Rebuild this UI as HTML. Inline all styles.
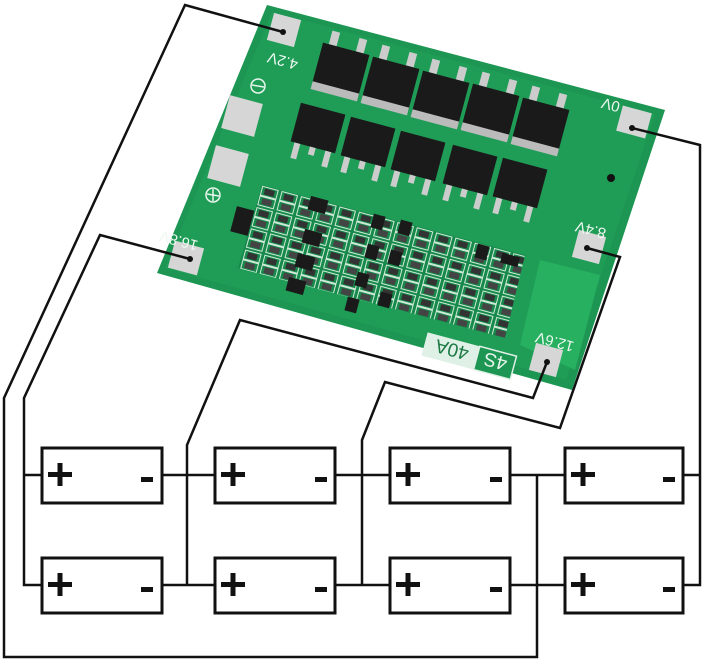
<!DOCTYPE html>
<html><head><meta charset="utf-8"><style>
html,body{margin:0;padding:0;background:#fff;}
svg{display:block;}
</style></head><body>
<svg width="708" height="667" viewBox="0 0 708 667" xmlns="http://www.w3.org/2000/svg" font-family="Liberation Sans, sans-serif">
<defs>
<pattern id="cmp" width="20" height="22" patternUnits="userSpaceOnUse" patternTransform="rotate(15)">
<rect x="0" y="0" width="20" height="22" fill="#178a4b"/>
<rect x="2" y="2" width="16" height="9" fill="none" stroke="#cfe9d8" stroke-width="1"/>
<rect x="5" y="3.5" width="10" height="6" fill="#333"/>
<rect x="2" y="12" width="16" height="9" fill="none" stroke="#cfe9d8" stroke-width="1"/>
<rect x="5" y="13.5" width="10" height="6" fill="#444"/>
</pattern>
</defs>
<rect width="708" height="667" fill="#fff"/>

<polygon points="267,5 665,110 572,390 157,273" fill="#1c9652"/>
<polygon points="272,12 655,114 566,380 165,268" fill="#1f9d57"/>
<polygon points="262,185 525,255 505,338 238,268" fill="url(#cmp)"/>
<polygon points="540,260 600,275 575,370 520,345" fill="#26b060"/>

<g fill="#1a1a1a">
<g transform="translate(340,72) rotate(15)"><rect x="-18" y="-38" width="8" height="14" fill="#ccc"/><rect x="10" y="-38" width="8" height="14" fill="#ccc"/><rect x="-24" y="-24" width="48" height="42"/><rect x="-24" y="16" width="48" height="8" fill="#bbb"/></g>
<g transform="translate(390,86) rotate(15)"><rect x="-18" y="-38" width="8" height="14" fill="#ccc"/><rect x="10" y="-38" width="8" height="14" fill="#ccc"/><rect x="-24" y="-24" width="48" height="42"/><rect x="-24" y="16" width="48" height="8" fill="#bbb"/></g>
<g transform="translate(440,100) rotate(15)"><rect x="-18" y="-38" width="8" height="14" fill="#ccc"/><rect x="10" y="-38" width="8" height="14" fill="#ccc"/><rect x="-24" y="-24" width="48" height="42"/><rect x="-24" y="16" width="48" height="8" fill="#bbb"/></g>
<g transform="translate(490,113) rotate(15)"><rect x="-18" y="-38" width="8" height="14" fill="#ccc"/><rect x="10" y="-38" width="8" height="14" fill="#ccc"/><rect x="-24" y="-24" width="48" height="42"/><rect x="-24" y="16" width="48" height="8" fill="#bbb"/></g>
<g transform="translate(540,127) rotate(15)"><rect x="-18" y="-38" width="8" height="14" fill="#ccc"/><rect x="10" y="-38" width="8" height="14" fill="#ccc"/><rect x="-24" y="-24" width="48" height="42"/><rect x="-24" y="16" width="48" height="8" fill="#bbb"/></g>
<g transform="translate(318,128) rotate(15)"><rect x="-23" y="-20" width="46" height="40"/><rect x="-19" y="20" width="6" height="16" fill="#ccc"/><rect x="-3" y="20" width="6" height="8" fill="#ccc"/><rect x="13" y="20" width="6" height="16" fill="#ccc"/></g>
<g transform="translate(368,142) rotate(15)"><rect x="-23" y="-20" width="46" height="40"/><rect x="-19" y="20" width="6" height="16" fill="#ccc"/><rect x="-3" y="20" width="6" height="8" fill="#ccc"/><rect x="13" y="20" width="6" height="16" fill="#ccc"/></g>
<g transform="translate(418,156) rotate(15)"><rect x="-23" y="-20" width="46" height="40"/><rect x="-19" y="20" width="6" height="16" fill="#ccc"/><rect x="-3" y="20" width="6" height="8" fill="#ccc"/><rect x="13" y="20" width="6" height="16" fill="#ccc"/></g>
<g transform="translate(470,170) rotate(15)"><rect x="-23" y="-20" width="46" height="40"/><rect x="-19" y="20" width="6" height="16" fill="#ccc"/><rect x="-3" y="20" width="6" height="8" fill="#ccc"/><rect x="13" y="20" width="6" height="16" fill="#ccc"/></g>
<g transform="translate(520,183) rotate(15)"><rect x="-23" y="-20" width="46" height="40"/><rect x="-19" y="20" width="6" height="16" fill="#ccc"/><rect x="-3" y="20" width="6" height="8" fill="#ccc"/><rect x="13" y="20" width="6" height="16" fill="#ccc"/></g>
<g transform="translate(242,222) rotate(15)"><rect x="-9" y="-14" width="18" height="26"/></g>
<g transform="translate(318,205) rotate(15)"><rect x="-9" y="-7" width="18" height="14"/></g>
<g transform="translate(312,238) rotate(15)"><rect x="-9" y="-7" width="18" height="14"/></g>
<g transform="translate(305,262) rotate(15)"><rect x="-9" y="-7" width="18" height="14"/></g>
<g transform="translate(296,286) rotate(15)"><rect x="-9" y="-7" width="18" height="14"/></g>
<g transform="translate(378,222) rotate(15)"><rect x="-6" y="-7" width="12" height="14"/></g>
<g transform="translate(372,252) rotate(15)"><rect x="-6" y="-7" width="12" height="14"/></g>
<g transform="translate(362,280) rotate(15)"><rect x="-6" y="-7" width="12" height="14"/></g>
<g transform="translate(352,305) rotate(15)"><rect x="-6" y="-7" width="12" height="14"/></g>
<g transform="translate(405,228) rotate(15)"><rect x="-6" y="-7" width="12" height="14"/></g>
<g transform="translate(395,258) rotate(15)"><rect x="-6" y="-7" width="12" height="14"/></g>
<g transform="translate(385,300) rotate(15)"><rect x="-6" y="-7" width="12" height="14"/></g>
<g transform="translate(482,252) rotate(15)"><rect x="-6" y="-7" width="12" height="14"/></g>
<g transform="translate(510,260) rotate(15)"><rect x="-9" y="-5" width="18" height="10"/></g>
</g>
<circle cx="611" cy="178" r="4" fill="#111"/>

<g fill="#d6d6d6">
<rect x="-14" y="-14" width="28" height="28" transform="translate(284,30) rotate(15)"/>
<rect x="-15" y="-13" width="30" height="26" transform="translate(634,122) rotate(15)"/>
<rect x="-15" y="-14" width="30" height="28" transform="translate(186,258) rotate(15)"/>
<rect x="-14" y="-14" width="28" height="28" transform="translate(589,247) rotate(15)"/>
<rect x="-14" y="-14" width="28" height="28" transform="translate(546,360) rotate(15)"/>
<rect x="-17" y="-17" width="34" height="34" transform="translate(242,116) rotate(15)"/>
<rect x="-17" y="-17" width="34" height="34" transform="translate(228,166) rotate(15)"/>
</g>
<circle cx="258" cy="86" r="7" fill="none" stroke="#e8f5ec" stroke-width="1.5"/><line x1="252" y1="85" x2="264" y2="87" stroke="#e8f5ec" stroke-width="1.5"/>
<circle cx="213" cy="195" r="7" fill="none" stroke="#e8f5ec" stroke-width="1.5"/><line x1="207" y1="194" x2="219" y2="196" stroke="#e8f5ec" stroke-width="1.5"/><line x1="213" y1="189" x2="213" y2="201" stroke="#e8f5ec" stroke-width="1.5"/>

<g fill="#eef8f1" font-size="15">
<text transform="translate(284,56) rotate(195)" text-anchor="middle">4.2V</text>
<text transform="translate(612,100) rotate(195)" text-anchor="middle">0V</text>
<text transform="translate(180,236) rotate(195)" text-anchor="middle">16.8V</text>
<text transform="translate(592,225) rotate(195)" text-anchor="middle">8.4V</text>
<text transform="translate(556,337) rotate(195)" text-anchor="middle">12.6V</text>
</g>
<g transform="translate(470,352) rotate(195)">
<rect x="-46" y="-16" width="92" height="24" fill="#dff0e6"/>
<rect x="-46" y="-16" width="38" height="24" fill="#1c9652" stroke="#dff0e6" stroke-width="1.5"/>
<text x="-27" y="4" font-size="19" fill="#e8f5ec" text-anchor="middle">4S</text>
<text x="18" y="4" font-size="19" fill="#1c7a45" text-anchor="middle">40A</text>
</g>

<g fill="none" stroke="#111" stroke-width="2.5" stroke-linejoin="miter">
<polyline points="283,32 185,5 4,398 4,657 537,657 537,475"/>
<polyline points="190,259 100,235 24,398 24,585 42,585"/>
<polyline points="547,362 533,398 240,320 187,445 187,585"/>
<polyline points="587,248 620,257 560,428 385,382 362,440 362,585"/>
<polyline points="632,128 700,145 700,585 683,585"/>
<line x1="24" y1="475" x2="42" y2="475"/>
<line x1="162" y1="475" x2="215" y2="475"/><line x1="335" y1="475" x2="390" y2="475"/>
<line x1="510" y1="475" x2="565" y2="475"/><line x1="683" y1="475" x2="700" y2="475"/>
<line x1="162" y1="585" x2="215" y2="585"/><line x1="335" y1="585" x2="390" y2="585"/>
<line x1="510" y1="585" x2="565" y2="585"/>
</g>
<g fill="#111"><circle cx="283" cy="32" r="3"/><circle cx="190" cy="259" r="3"/><circle cx="547" cy="362" r="3"/><circle cx="587" cy="248" r="3"/><circle cx="632" cy="128" r="3"/></g>

<g fill="#fff" stroke="#111" stroke-width="3">
<rect x="42" y="448" width="120" height="55"/><rect x="215" y="448" width="120" height="55"/>
<rect x="390" y="448" width="120" height="55"/><rect x="565" y="448" width="118" height="55"/>
<rect x="42" y="558" width="120" height="55"/><rect x="215" y="558" width="120" height="55"/>
<rect x="390" y="558" width="120" height="55"/><rect x="565" y="558" width="118" height="55"/>
</g>
<g fill="#111">
<g id="p1"><rect x="48" y="472" width="24" height="5"/><rect x="57.5" y="463" width="5" height="23"/></g>
<use href="#p1" x="173"/><use href="#p1" x="348"/><use href="#p1" x="523"/>
<use href="#p1" y="110"/><use href="#p1" x="173" y="110"/><use href="#p1" x="348" y="110"/><use href="#p1" x="523" y="110"/>
<rect x="141" y="477" width="12" height="5"/><rect x="315" y="477" width="12" height="5"/><rect x="490" y="477" width="12" height="5"/><rect x="663" y="477" width="12" height="5"/>
<rect x="141" y="587" width="12" height="5"/><rect x="315" y="587" width="12" height="5"/><rect x="490" y="587" width="12" height="5"/><rect x="663" y="587" width="12" height="5"/>
</g>
</svg>
</body></html>
